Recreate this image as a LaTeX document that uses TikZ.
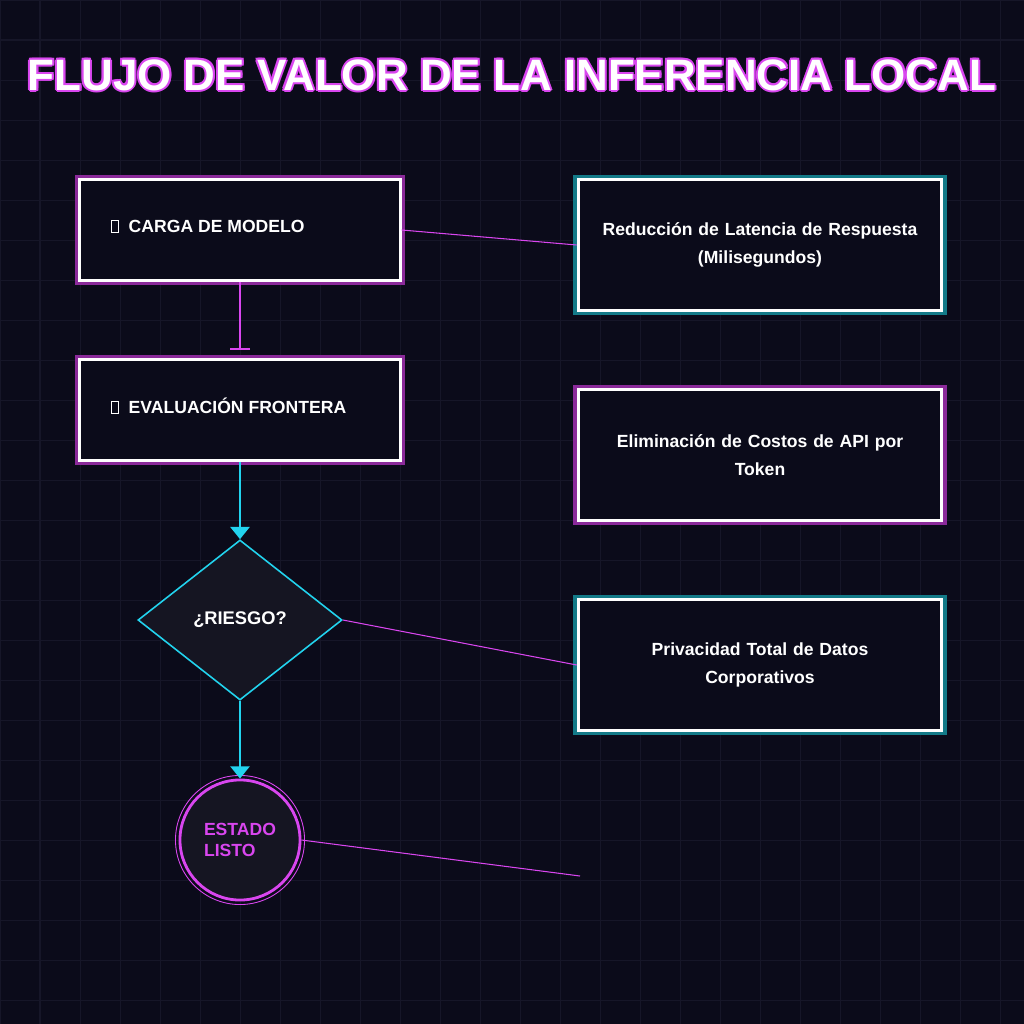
\documentclass[tikz,border=0pt]{standalone}
\usepackage{fontspec}
\setmainfont{Liberation Sans}
\usetikzlibrary{shapes.geometric,arrows.meta}
\definecolor{bgdark}{HTML}{0B0B1A}
\definecolor{gridline}{HTML}{161628}
\definecolor{neonpink}{HTML}{D946EF}
\definecolor{glowpink}{HTML}{8B2A9A}
\definecolor{neoncyan}{HTML}{22D3EE}
\definecolor{glowcyan}{HTML}{137A88}
\definecolor{shapefill}{HTML}{151522}
\newcommand{\tofu}{\tikz[baseline=0pt,x=1cm,y=1cm]\draw[white,line width=0.25pt] (0,0) rectangle (0.07,0.12);\hspace{0.1cm}}
\newcommand{\titletext}{FLUJO DE VALOR DE LA INFERENCIA LOCAL}

\begin{document}
\begin{tikzpicture}[x=0.01cm, y=-0.01cm,
  stepbox/.style={draw=white, line width=0.85pt, fill=bgdark, minimum width=3.2cm, minimum height=1cm},
  steplabel/.style={anchor=west, xshift=0.2cm, yshift=0.04cm, text=white, font=\bfseries\fontsize{5}{6}\selectfont},
  glowpinkbox/.style={preaction={draw=glowpink, line width=2.8pt}},
  glowcyanbox/.style={preaction={draw=glowcyan, line width=2.8pt}},
  infobox/.style={draw=white, line width=0.85pt, fill=bgdark, minimum width=3.6cm, minimum height=1.3cm,
    align=center, text width=3.4cm, font=\bfseries\fontsize{5}{8}\selectfont, text=white,
    execute at begin node={\hyphenpenalty=10000}},
  titlefont/.style={font=\bfseries\fontsize{12.5}{15}\selectfont},
  flowline/.style={neoncyan, line width=0.55pt, -{Triangle[width=5.5pt,length=3.5pt]}},
  thinlink/.style={neonpink, line width=0.3pt}]
\useasboundingbox (0,0) rectangle (1024,1024);
\fill[bgdark] (0,0) rectangle (1024,1024);
\draw[gridline, line width=0.3pt] (0,0) grid[step=0.4cm] (1024,1024);

\foreach \dx/\dy in {-2/0,2/0,0/-2,0/2,-1.5/-1.5,1.5/1.5,-1.5/1.5,1.5/-1.5}
  \node[titlefont, text=neonpink] at (512+\dx,75+\dy) {\titletext};
\node[titlefont, text=white] (title) at (512,75) {\titletext};

% pasos del flujo
\node[stepbox, glowpinkbox, label={[steplabel]west:\tofu CARGA DE MODELO}] (carga) at (240,230) {};
\node[stepbox, glowpinkbox, label={[steplabel]west:\tofu EVALUACIÓN FRONTERA}] (evalua) at (240,410) {};
\node[diamond, draw=neoncyan, line width=0.45pt, fill=shapefill, minimum width=2.04cm, minimum height=1.6cm,
  inner sep=0pt, text=white, font=\bfseries\fontsize{5.2}{6}\selectfont] (riesgo) at (240,620) {¿RIESGO?};
\draw[neonpink, line width=0.25pt] (240,840) circle[radius=0.645cm];
\node[circle, draw=neonpink, line width=0.8pt, fill=shapefill, minimum size=1.2cm, align=left, inner sep=0pt,
  text=neonpink, font=\bfseries\fontsize{5}{6}\selectfont] (listo) at (240,840) {ESTADO\\ LISTO};

% beneficios
\node[infobox, glowcyanbox] (latencia) at (760,245) {Reducción de Latencia de Respuesta\\(Milisegundos)};
\node[infobox, glowpinkbox] (costos) at (760,455) {Eliminación de Costos de API por\\Token};
\node[infobox, glowcyanbox] (privacidad) at (760,665) {Privacidad Total de Datos\\Corporativos};
\coordinate (libre) at (580,876);

\draw[neonpink, line width=0.6pt, shorten >=0.08cm, -{Bar[width=5.5pt]}] (carga) -- (evalua);
\draw[flowline] (evalua) -- (riesgo);
\draw[flowline] (riesgo) -- (listo);
\draw[thinlink] (carga.east) -- (latencia.west);
\draw[thinlink] (riesgo.east) -- (privacidad.west);
\draw[thinlink] (listo.east) -- (libre);
\end{tikzpicture}
\end{document}
